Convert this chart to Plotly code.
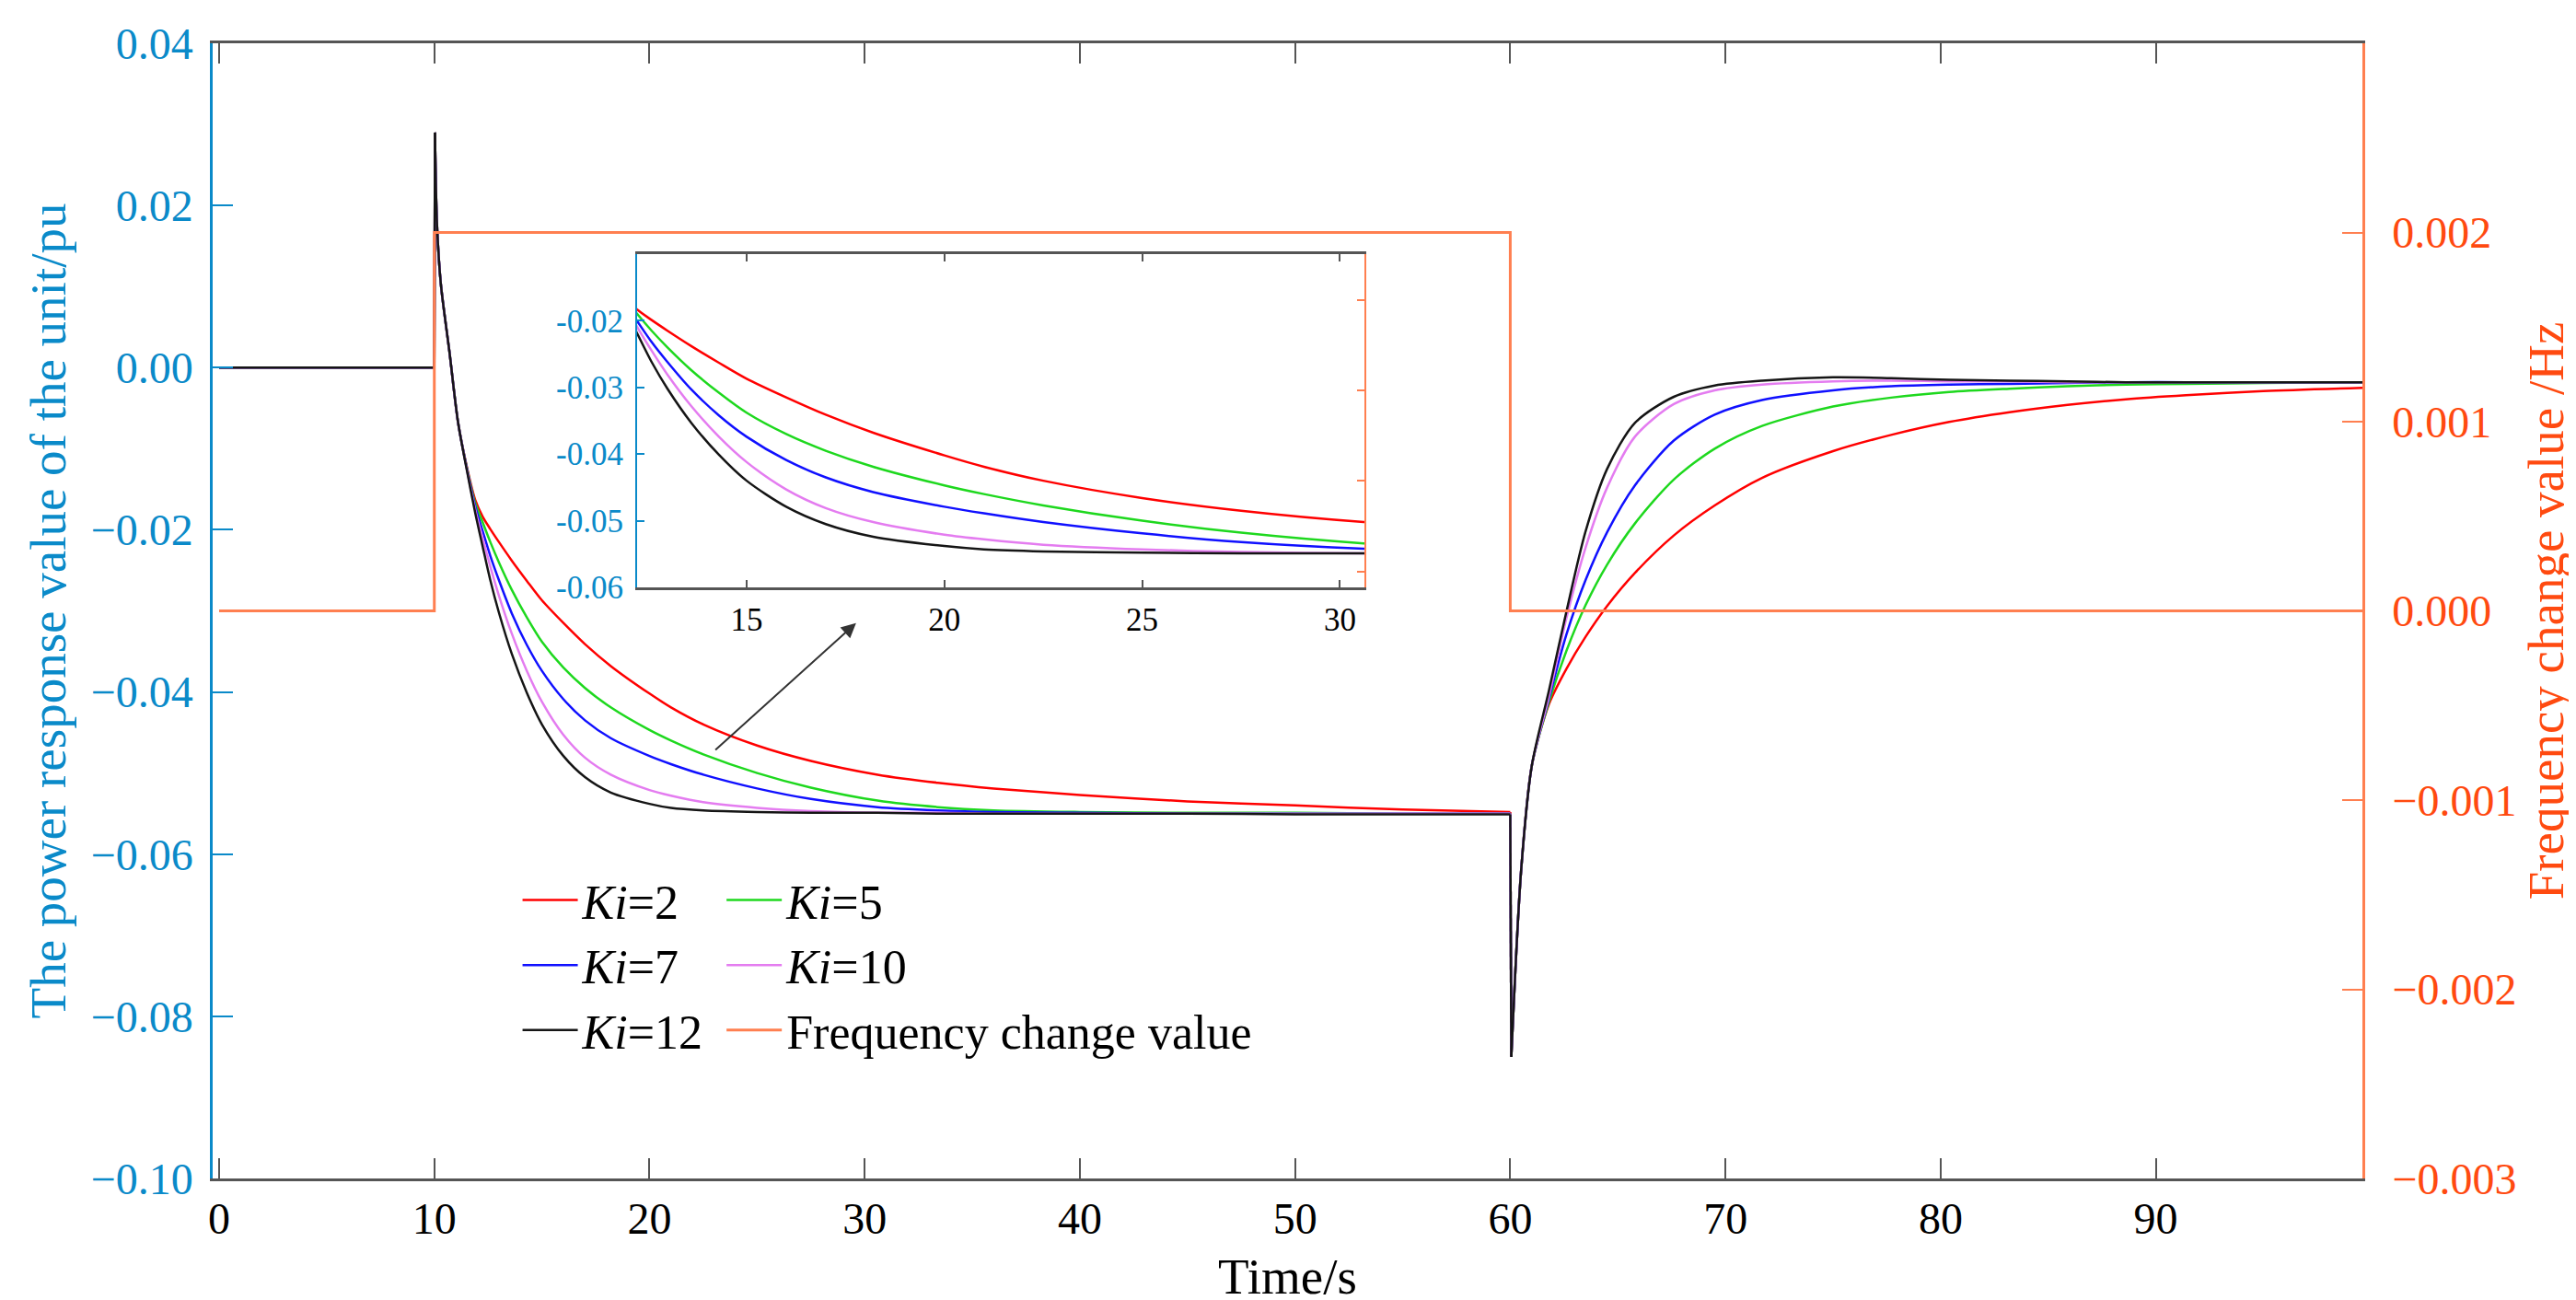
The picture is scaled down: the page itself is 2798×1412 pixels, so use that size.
import plotly.graph_objects as go

# time axis (s) shared by the five Ki curves
T = [0, 10, 10.03, 10.12, 10.3, 10.7, 11.1, 11.5, 11.9,
     12.25, 12.6, 13, 13.6, 14.3, 15, 16, 17, 18.2, 20,
     21, 22.5, 25, 27.5, 30.6, 33.4, 36, 40, 45, 50,
     55, 60, 60.05, 60.5, 61, 61.8, 62.6, 63.5, 64.5, 65.8,
     67.6, 69.5, 71.7, 75, 77.7, 80.4, 83.2, 85.9, 88.6, 91.4,
     95, 99.6]

KI2 = [0, 0, 0.029, 0.018, 0.0104, 0.0020, -0.0067, -0.0121, -0.0163,
       -0.0184, -0.0199, -0.0215, -0.0238, -0.0263, -0.0287, -0.0315, -0.0341, -0.0368, -0.0402,
       -0.0419, -0.0440, -0.0466, -0.0485, -0.0502, -0.0512, -0.0519, -0.0527, -0.0535, -0.0540,
       -0.0545, -0.0548, -0.0850, -0.0622, -0.0491, -0.0415, -0.0372, -0.0332, -0.0294, -0.0253,
       -0.0207, -0.0170, -0.0136, -0.0103, -0.0083, -0.0067, -0.0055, -0.0046, -0.0039, -0.0034,
       -0.0029, -0.0025]

KI5 = [0, 0, 0.029, 0.018, 0.0104, 0.0020, -0.0067, -0.0122, -0.0167,
       -0.0191, -0.0215, -0.0240, -0.0274, -0.0308, -0.0338, -0.0370, -0.0395, -0.0419, -0.0447,
       -0.0460, -0.0477, -0.0500, -0.0518, -0.0534, -0.0542, -0.0546, -0.0548, -0.0549, -0.0549,
       -0.0550, -0.0550, -0.0850, -0.0622, -0.0491, -0.0412, -0.0350, -0.0293, -0.0243, -0.0192,
       -0.0138, -0.0100, -0.0072, -0.0048, -0.0037, -0.0030, -0.0026, -0.0023, -0.0021, -0.0020,
       -0.0019, -0.0018]

KI7 = [0, 0, 0.029, 0.018, 0.0104, 0.0020, -0.0067, -0.0123, -0.0171,
       -0.0202, -0.0232, -0.0262, -0.0303, -0.0342, -0.0374, -0.0409, -0.0435, -0.0457, -0.0479,
       -0.0489, -0.0502, -0.0519, -0.0532, -0.0542, -0.0546, -0.0548, -0.0549, -0.0550, -0.0550,
       -0.0550, -0.0550, -0.0850, -0.0622, -0.0491, -0.0408, -0.0330, -0.0262, -0.0203, -0.0145,
       -0.0090, -0.0058, -0.0040, -0.0028, -0.0023, -0.0021, -0.0020, -0.0019, -0.0018, -0.0018,
       -0.0018, -0.0018]

KI10 = [0, 0, 0.029, 0.018, 0.0104, 0.0020, -0.0067, -0.0124, -0.0175,
        -0.0211, -0.0245, -0.0281, -0.0328, -0.0374, -0.0412, -0.0453, -0.0481, -0.0502, -0.0521,
        -0.0528, -0.0536, -0.0543, -0.0547, -0.0549, -0.0549, -0.0550, -0.0550, -0.0550, -0.0550,
        -0.0550, -0.0550, -0.0850, -0.0622, -0.0491, -0.0405, -0.0310, -0.0222, -0.0148, -0.0085,
        -0.0045, -0.0028, -0.0021, -0.0017, -0.0016, -0.0017, -0.0017, -0.0018, -0.0018, -0.0018,
        -0.0018, -0.0018]

KI12 = [0, 0, 0.029, 0.018, 0.0104, 0.0020, -0.0067, -0.0125, -0.0179,
        -0.0221, -0.0262, -0.0302, -0.0353, -0.0401, -0.0440, -0.0479, -0.0505, -0.0524, -0.0538,
        -0.0543, -0.0546, -0.0548, -0.0549, -0.0549, -0.0550, -0.0550, -0.0550, -0.0550, -0.0551,
        -0.0551, -0.0551, -0.0850, -0.0622, -0.0491, -0.0398, -0.0302, -0.0202, -0.0125, -0.0068,
        -0.0036, -0.0022, -0.0016, -0.0012, -0.0013, -0.0015, -0.0016, -0.0017, -0.0018, -0.0018,
        -0.0018, -0.0018]

# frequency step (Hz), right axis
FREQ_T = [0, 10, 10, 60, 60, 99.6]
FREQ = [0, 0, 0.002, 0.002, 0, 0]

X_TICKS = [0, 10, 20, 30, 40, 50, 60, 70, 80, 90]
LEFT_TICKS = [-0.10, -0.08, -0.06, -0.04, -0.02, 0.00, 0.02, 0.04]
RIGHT_TICKS = [-0.003, -0.002, -0.001, 0.0, 0.001, 0.002]
INSET_X_TICKS = [15, 20, 25, 30]
INSET_Y_TICKS = [-0.06, -0.05, -0.04, -0.03, -0.02]
INSET_Y_LABELS = ['-0.06', '-0.05', '-0.04', '-0.03', '-0.02']
INSET_RIGHT_TICKS = [0.047, 0.319, 0.591, 0.862]

BLUE = '#0A8AC9'
ORANGE = '#FF7F50'
ORANGE_TXT = '#FF4A10'
GREY = '#555555'
FONT = 'Liberation Serif'

# pieces of each curve: step up at 10 s, decay, drop at 60 s, recovery
PEAK = T.index(10.03)
DROP = T.index(60)
LOW = T.index(60.05)
PIECES = [(0, PEAK + 1, 'linear'), (PEAK, DROP + 1, 'spline'),
          (DROP, LOW + 1, 'linear'), (LOW, len(T), 'spline')]

curves = [
    ('<i>Ki</i>=2', KI2, '#FF0000', 'legend'),
    ('<i>Ki</i>=5', KI5, '#1ED81E', 'legend2'),
    ('<i>Ki</i>=7', KI7, '#1010FF', 'legend'),
    ('<i>Ki</i>=10', KI10, '#E47CF0', 'legend2'),
    ('<i>Ki</i>=12', KI12, '#151515', 'legend'),
]

fig = go.Figure()

for name, vals, color, leg in curves:
    for k, (a, b, shape) in enumerate(PIECES):
        fig.add_trace(go.Scatter(x=T[a:b], y=vals[a:b], name=name, mode='lines',
                                 line=dict(color=color, width=2.5, shape=shape, smoothing=0.8),
                                 legend=leg, legendgroup=name, showlegend=(k == 1)))

fig.add_trace(go.Scatter(x=FREQ_T, y=FREQ, name='Frequency change value', mode='lines',
                         line=dict(color=ORANGE, width=3), yaxis='y2', legend='legend2'))

# zoomed inset
for name, vals, color, leg in curves:
    fig.add_trace(go.Scatter(x=T[PEAK:DROP + 1], y=vals[PEAK:DROP + 1], mode='lines',
                             showlegend=False, hoverinfo='skip',
                             line=dict(color=color, width=2.5, shape='spline', smoothing=0.8),
                             xaxis='x3', yaxis='y3'))
fig.add_trace(go.Scatter(x=[None], y=[None], xaxis='x3', yaxis='y4',
                         showlegend=False, hoverinfo='skip'))

fig.update_layout(
    width=2798, height=1412,
    margin=dict(l=223, r=240, t=39, b=140),
    plot_bgcolor='white', paper_bgcolor='white',
    font=dict(family=FONT, color='black'),
    xaxis=dict(domain=[0, 1], range=[-0.3, 99.6], tickvals=X_TICKS,
               ticks='inside', ticklen=22, tickwidth=2, tickcolor=GREY,
               showline=True, linecolor=GREY, linewidth=2.5, mirror='ticks',
               showgrid=False, zeroline=False, tickfont=dict(size=48),
               title=dict(text='Time/s', font=dict(size=55), standoff=18)),
    yaxis=dict(range=[-0.10, 0.04], tickvals=LEFT_TICKS, tickformat='.2f',
               ticks='inside', ticklen=22, tickwidth=2, tickcolor=BLUE,
               showline=True, linecolor=BLUE, linewidth=2.5,
               showgrid=False, zeroline=False,
               tickfont=dict(size=48, color=BLUE), ticklabelstandoff=9,
               title=dict(text='The power response value of the unit/pu',
                          font=dict(size=55, color=BLUE), standoff=10)),
    yaxis2=dict(overlaying='y', side='right', range=[-0.003, 0.003],
                tickvals=RIGHT_TICKS, tickformat='.3f',
                ticks='inside', ticklen=22, tickwidth=2, tickcolor=ORANGE,
                showline=True, linecolor=ORANGE, linewidth=2.5,
                showgrid=False, zeroline=False,
                tickfont=dict(size=48, color=ORANGE_TXT), ticklabelstandoff=20,
                title=dict(text='Frequency change value /Hz',
                           font=dict(size=55, color=ORANGE_TXT), standoff=14)),
    xaxis3=dict(domain=[0.1974, 0.5358], anchor='y3', range=[12.23, 30.62],
                tickvals=INSET_X_TICKS, ticks='inside', ticklen=8, tickwidth=2,
                tickcolor=GREY, showline=True, linecolor=GREY, linewidth=2.5,
                mirror='ticks', showgrid=False, zeroline=False,
                tickfont=dict(size=35), ticklabelstandoff=2),
    yaxis3=dict(domain=[0.5207, 0.8143], anchor='x3', range=[-0.06, -0.01],
                tickvals=INSET_Y_TICKS, ticktext=INSET_Y_LABELS,
                ticks='inside', ticklen=8, tickwidth=2, tickcolor=BLUE,
                showline=True, linecolor=BLUE, linewidth=2,
                showgrid=False, zeroline=False,
                tickfont=dict(size=35, color=BLUE), ticklabelstandoff=6),
    yaxis4=dict(overlaying='y3', anchor='x3', side='right', range=[0, 1],
                tickvals=INSET_RIGHT_TICKS, showticklabels=False,
                ticks='inside', ticklen=8, tickwidth=2, tickcolor=ORANGE,
                showline=True, linecolor=ORANGE, linewidth=2,
                showgrid=False, zeroline=False),
    legend=dict(x=0.142, y=0.278, xanchor='left', yanchor='top',
                bgcolor='rgba(0,0,0,0)', font=dict(size=52),
                itemwidth=60, tracegroupgap=0),
    legend2=dict(x=0.2369, y=0.278, xanchor='left', yanchor='top',
                 bgcolor='rgba(0,0,0,0)', font=dict(size=52),
                 itemwidth=60, tracegroupgap=0),
)

fig.add_annotation(x=29.6, y=-0.0315, ax=23.0, ay=-0.0473,
                   xref='x', yref='y', axref='x', ayref='y',
                   text='', showarrow=True, arrowhead=2, arrowsize=1.6,
                   arrowwidth=2, arrowcolor='#333333')

fig.write_html('out.html')
